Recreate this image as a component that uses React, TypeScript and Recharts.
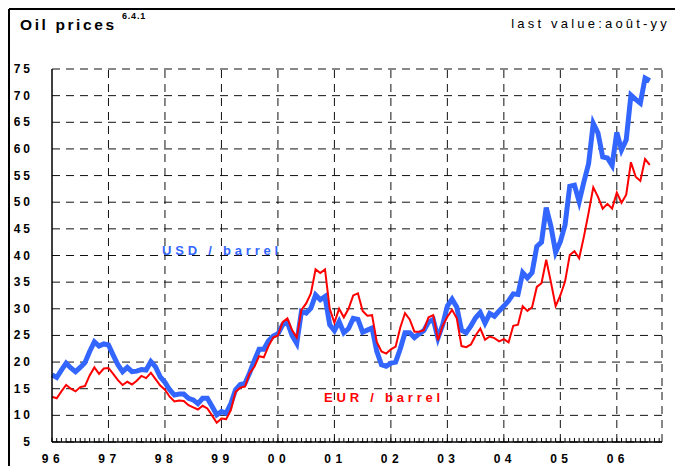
import { LineChart, Line, XAxis, YAxis, CartesianGrid, ReferenceLine } from "recharts";

// monthly, Jan 96 .. Aug 06
const USD = [
  17.6, 17.1, 18.5, 19.8, 18.9, 18.2, 19.0, 19.9, 22.0, 23.8, 23.0, 23.4,
  23.2, 21.3, 19.5, 18.2, 19.0, 18.2, 18.3, 18.6, 18.5, 20.1, 19.1, 17.2,
  16.2, 14.8, 13.8, 14.0, 14.0, 13.2, 12.9, 12.2, 13.2, 13.2, 11.7, 10.1,
  10.7, 10.4, 12.2, 14.8, 15.8, 16.0, 18.0, 20.3, 22.4, 22.4, 24.0, 24.9,
  25.3, 27.0, 27.5, 25.0, 23.5, 29.5, 29.2, 30.1, 32.6, 31.7, 32.3, 27.0,
  25.9, 27.6, 25.5, 26.3, 28.2, 28.0, 25.6, 26.0, 26.4, 22.0, 19.5, 19.2,
  19.8, 20.0, 22.5, 25.5, 25.5, 24.6, 25.3, 25.9, 27.5, 28.0, 24.5, 27.0,
  30.5, 31.8, 30.3, 26.0, 25.5, 26.8, 28.3, 29.3, 27.3, 29.1, 28.6, 29.6,
  30.5, 31.5, 32.8, 32.7, 36.8, 35.8, 36.8, 41.7, 42.5, 49.0, 45.5, 40.6,
  42.6, 45.7, 53.0, 53.2, 50.1, 53.8, 57.2, 64.8, 63.0, 58.5, 58.3, 56.9,
  63.1, 59.8, 61.7, 70.1, 69.3, 68.6, 73.3, 72.8,
];

const EUR = [
  13.5, 13.2, 14.5, 15.7, 15.0, 14.5, 15.3, 15.5, 17.5, 19.0, 17.8, 18.8,
  18.9, 17.8, 16.6, 15.7, 16.3, 15.8, 16.5, 17.4, 17.0, 18.0, 16.8, 15.6,
  14.8, 13.5, 12.6, 12.8, 12.7, 11.9, 11.5, 11.1, 11.8, 11.3, 10.0, 8.6,
  9.4, 9.3, 11.0, 14.4, 15.2, 15.4, 17.9, 19.1, 21.1, 20.9, 23.0, 24.6,
  25.0, 27.5, 28.2, 26.0, 24.6, 29.8, 31.0, 32.9, 37.4, 36.7, 37.4, 30.0,
  27.4, 30.0, 28.4, 30.0, 32.5, 32.9, 29.6, 28.7, 28.8, 23.8, 22.0, 21.6,
  22.4, 22.9, 26.5, 29.2, 28.0, 25.7, 25.7, 26.0, 28.4, 28.8, 24.1, 26.8,
  28.5, 29.8, 28.2, 23.0, 22.8, 23.3, 25.0, 26.3, 24.2, 24.8, 24.5, 23.9,
  24.3, 23.7, 26.8, 27.0, 30.5, 29.6, 30.3, 34.1, 34.8, 39.2, 35.0, 30.5,
  32.5, 35.1, 40.1, 40.8, 39.5, 43.5, 48.0, 52.8, 51.0, 48.8, 49.7, 48.8,
  51.8, 49.9, 51.4, 57.5, 54.8, 54.0, 58.1, 57.0,
];

const YEARS = ["96", "97", "98", "99", "00", "01", "02", "03", "04", "05", "06"];
const Y_TICKS = [5, 10, 15, 20, 25, 30, 35, 40, 45, 50, 55, 60, 65, 70, 75];
const X_MAX = 129.6;

const data = USD.map((v, i) => ({ m: i, usd: v, eur: EUR[i] }));
const monthTicks = Array.from({ length: 130 }, (_, i) => i);
const yearTicks = YEARS.map((_, i) => i * 12).filter((m) => m > 0);

const FONT = "'Liberation Sans', Arial, Helvetica, sans-serif";

function XTick(props: any) {
  const { x, y, payload } = props;
  const m = payload.value;
  const label = m % 12 === 0 ? YEARS[m / 12] : null;
  return (
    <g>
      <line x1={x} x2={x} y1={y} y2={y - 4} stroke="#000" strokeWidth={1} />
      {label && (
        <text x={x + 1} y={y + 21} textAnchor="middle" fontFamily={FONT} fontSize={12} fontWeight="bold" letterSpacing={4.5} fill="#000">
          {label}
        </text>
      )}
    </g>
  );
}

function YTick(props: any) {
  const { x, y, payload } = props;
  return (
    <text x={x - 19} y={y + 4} textAnchor="end" fontFamily={FONT} fontSize={12} fontWeight="bold" letterSpacing={3} fill="#000">
      {payload.value}
    </text>
  );
}

export default function App() {
  return (
    <div style={{ position: "absolute", left: 0, top: 0, width: 675, height: 466, background: "#fff" }}>
      <LineChart width={675} height={466} data={data} margin={{ top: 69, right: 13, bottom: 0, left: 0 }}>
        <CartesianGrid vertical={false} stroke="#111" strokeDasharray="8 6" />
        {yearTicks.map((m) => (
          <ReferenceLine key={m} x={m} stroke="#111" strokeDasharray="8 6" />
        ))}
        <ReferenceLine x={X_MAX} stroke="#111" strokeDasharray="8 6" />
        <XAxis
          type="number"
          dataKey="m"
          domain={[0, X_MAX]}
          ticks={monthTicks}
          interval={0}
          height={24}
          tickLine={false}
          tickSize={0}
          tickMargin={0}
          axisLine={{ stroke: "#000", strokeWidth: 1.5 }}
          tick={<XTick />}
        />
        <YAxis
          domain={[5, 75]}
          ticks={Y_TICKS}
          width={52}
          tickLine={false}
          tickSize={0}
          tickMargin={0}
          axisLine={{ stroke: "#000", strokeWidth: 1.5 }}
          tick={<YTick />}
        />
        <Line type="linear" dataKey="usd" stroke="#3366ff" strokeWidth={5} dot={false} isAnimationActive={false} />
        <Line type="linear" dataKey="eur" stroke="#ff0000" strokeWidth={2} dot={false} isAnimationActive={false} />
      </LineChart>
      <svg width={675} height={466} style={{ position: "absolute", left: 0, top: 0, pointerEvents: "none" }}>
        <line x1={9} y1={9} x2={675} y2={9} stroke="#000" strokeWidth={2} />
        <line x1={9} y1={9} x2={9} y2={466} stroke="#000" strokeWidth={2} />
        <text x={20} y={29.5} fontFamily={FONT} fontSize={15.5} fontWeight="bold" letterSpacing={2.6} fill="#000">
          Oil prices
        </text>
        <text x={122} y={18.5} fontFamily={FONT} fontSize={9} fontWeight="bold" letterSpacing={0.8} fill="#000">
          6.4.1
        </text>
        <text x={670} y={28} textAnchor="end" fontFamily={FONT} fontSize={13} letterSpacing={3.2} fill="#000">
          last value:août-yy
        </text>
        <text x={162} y={255} fontFamily={FONT} fontSize={13} fontWeight="bold" letterSpacing={3.8} fill="#3366ff">
          USD / barrel
        </text>
        <text x={324} y={402} fontFamily={FONT} fontSize={13} fontWeight="bold" letterSpacing={3.8} fill="#ff0000">
          EUR / barrel
        </text>
      </svg>
    </div>
  );
}
